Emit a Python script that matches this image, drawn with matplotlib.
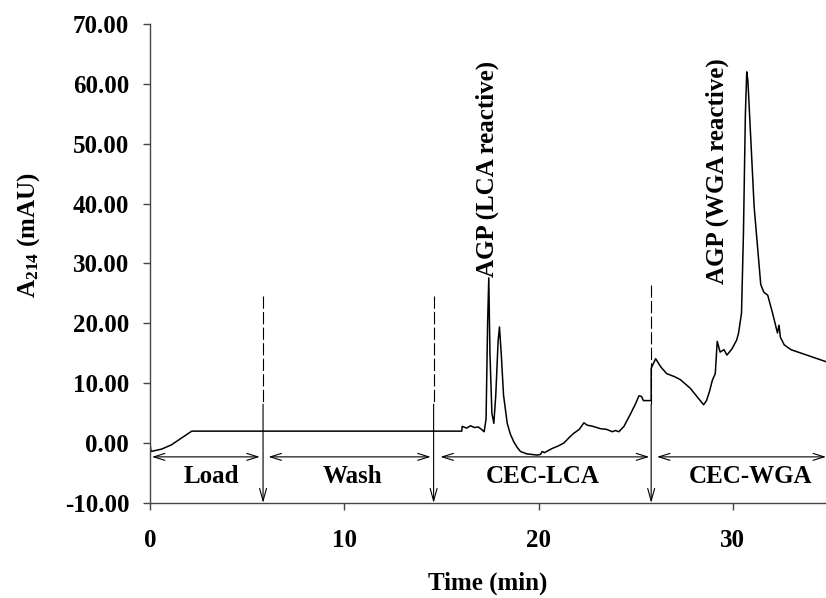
import matplotlib
matplotlib.use("Agg")
import matplotlib.pyplot as plt

plt.rcParams['font.family'] = ['Liberation Serif', 'DejaVu Serif']
plt.rcParams['font.weight'] = 'bold'
plt.rcParams['mathtext.fontset'] = 'custom'
plt.rcParams['mathtext.rm'] = 'Liberation Serif:bold'
plt.rcParams['mathtext.bf'] = 'Liberation Serif:bold'
plt.rcParams['mathtext.default'] = 'bf'

# Chromatogram trace (time in min, absorbance in mAU)
time_min = [0.0, 0.05, 0.6, 1.1, 1.6, 2.15, 16.05, 16.07, 16.3, 16.5, 16.7, 16.9, 17.1, 17.2,
            17.3, 17.38, 17.44, 17.5, 17.6, 17.7, 17.8, 17.92, 17.99, 18.08, 18.2, 18.39, 18.55,
            18.73, 18.9, 19.07, 19.4, 19.93, 20.1, 20.19, 20.3, 20.7, 21.0, 21.3, 21.6, 21.8,
            22.1, 22.34, 22.5, 22.8, 23.2, 23.5, 23.8, 23.95, 24.14, 24.4, 24.74, 25.0, 25.17,
            25.3, 25.4, 25.8, 25.8, 26.03, 26.3, 26.6, 27.0, 27.3, 27.8, 28.2, 28.5, 28.65, 28.8,
            28.95, 29.1, 29.2, 29.35, 29.55, 29.7, 29.95, 30.2, 30.3, 30.45, 30.55, 30.65, 30.72,
            30.78, 31.1, 31.44, 31.6, 31.8, 32.05, 32.3, 32.38, 32.45, 32.65, 33.0, 34.8]
absorb = [0.0, -1.4, -1.0, -0.3, 0.8, 2.0, 2.0, 2.8, 2.5, 2.9, 2.6, 2.7, 2.2, 1.9,
          4.0, 20.0, 27.6, 15.0, 5.0, 3.3, 8.0, 17.0, 19.4, 15.0, 8.0, 3.3, 1.5,
          0.2, -0.7, -1.4, -1.8, -2.0, -1.9, -1.4, -1.6, -0.9, -0.5, 0.0, 1.0, 1.6,
          2.3, 3.4, 3.0, 2.8, 2.4, 2.3, 1.9, 2.1, 1.9, 2.8, 4.9, 6.6, 7.9,
          7.8, 7.1, 7.1, 12.5, 14.1, 12.7, 11.6, 11.1, 10.6, 9.2, 7.6, 6.4, 7.1, 8.6,
          10.5, 11.6, 17.0, 15.2, 15.6, 14.7, 15.7, 17.2, 18.4, 21.7, 35.0, 55.0, 62.0,
          60.5, 39.5, 26.5, 25.2, 24.7, 21.7, 18.4, 19.7, 17.7, 16.4, 15.6, 13.6]

# Phase boundaries and labels
boundary_t = [5.82, 14.6, 25.8]
boundary_top = [24.5, 24.5, 26.4]
phase_names = ["Load", "Wash", "CEC-LCA", "CEC-WGA"]
phase_label_x = [3.18, 10.4, 20.2, 30.9]
phase_arrow_start = [0.1, 6.1, 14.95, 26.1]
phase_arrow_end = [5.65, 14.45, 25.7, 34.8]
peak_labels = ["AGP (LCA reactive)", "AGP (WGA reactive)"]
peak_label_x = [17.35, 29.2]
peak_label_y = [27.8, 26.5]

y_ticks = [-10, 0, 10, 20, 30, 40, 50, 60, 70]
x_ticks = [0, 10, 20, 30]

fig = plt.figure(figsize=(8.26, 5.98), dpi=100)
ax = fig.add_axes([0.1816, 0.1589, 0.8184, 0.801])

ax.plot(time_min, absorb, color='black', lw=1.1)

ax.set_xlim(0, 34.8)
ax.set_ylim(-10, 70)
ax.set_yticks(y_ticks)
ax.set_yticklabels([f"{v:.2f}" for v in y_ticks])
ax.set_xticks(x_ticks)
for s in ['top', 'right']:
    ax.spines[s].set_visible(False)
for s in ['left', 'bottom']:
    ax.spines[s].set_color('#444444')
    ax.spines[s].set_linewidth(1.0)
ax.tick_params(axis='both', labelsize=18, length=5, color='#444444', width=1.0)
ax.tick_params(axis='y', pad=10)
ax.tick_params(axis='x', pad=14)

# Boundary markers: dashed upper part, solid arrow to axis
for bt, top in zip(boundary_t, boundary_top):
    ax.plot([bt, bt], [top, 6.5], color='black', lw=0.8, linestyle=(0, (11, 3)))
    ax.annotate("", xy=(bt, -10), xytext=(bt, 6.5),
                arrowprops=dict(arrowstyle='->,head_length=0.9,head_width=0.25',
                                color='black', lw=0.8, shrinkA=0, shrinkB=0))

# Phase double arrows and labels
for name, lx, a0, a1 in zip(phase_names, phase_label_x, phase_arrow_start, phase_arrow_end):
    ax.annotate("", xy=(a1, -2.3), xytext=(a0, -2.3),
                arrowprops=dict(arrowstyle='<->,head_length=0.8,head_width=0.25',
                                color='black', lw=0.8, shrinkA=0, shrinkB=0),
                annotation_clip=False)
    ax.text(lx, -5.6, name, ha='center', va='center', fontsize=18, fontweight='bold')

for lab, px, py in zip(peak_labels, peak_label_x, peak_label_y):
    ax.text(px, py, lab, rotation=90, ha='center', va='bottom', fontsize=18, fontweight='bold')

ax.set_xlabel("Time (min)", fontsize=18, fontweight='bold', labelpad=14)
ax.set_ylabel(r"A$_{214}$ (mAU)", fontsize=18, fontweight='bold')
ax.yaxis.set_label_coords(-0.16, 0.56)

fig.savefig("out.png", dpi=100)
